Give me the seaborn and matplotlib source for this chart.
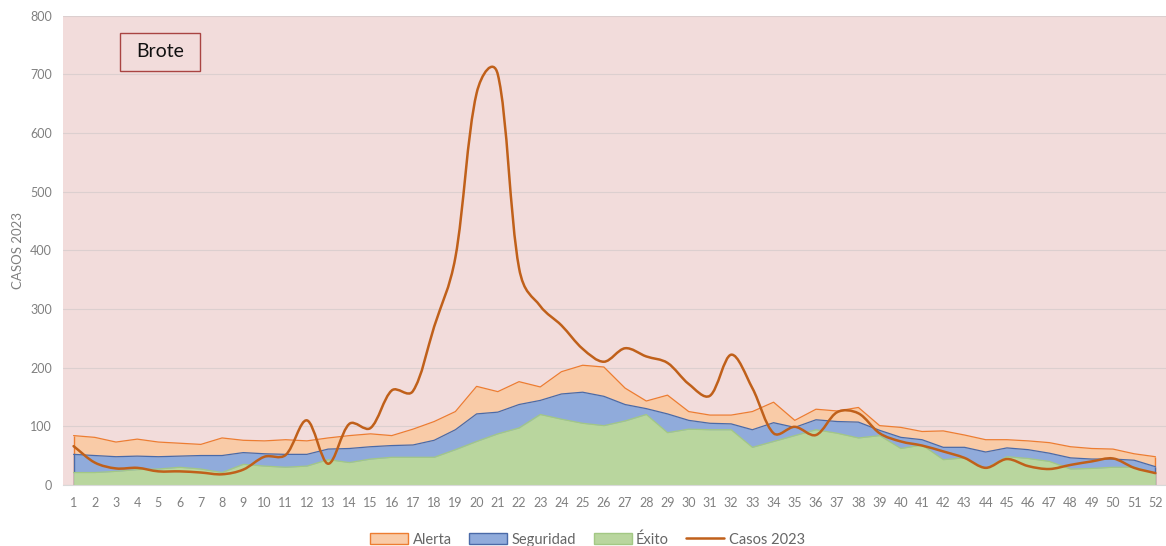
import numpy as np
import pandas as pd
import seaborn as sns
from matplotlib import pyplot as plt
from matplotlib.path import Path
from matplotlib.patches import PathPatch, Patch, Rectangle
from matplotlib.lines import Line2D

weeks = list(range(1, 53))

casos_2023 = [66, 38, 28, 29, 23, 23, 21, 18, 26, 48, 51, 110, 36, 104, 97, 161, 160,
              270, 388, 668, 700, 370, 305, 272, 232, 210, 233, 219, 208, 172, 152, 222,
              165, 88, 99, 85, 124, 122, 88, 74, 67, 57, 46, 29, 44, 32, 27, 34, 40, 45,
              29, 20]
alerta = [84, 81, 73, 78, 73, 71, 69, 80, 76, 75, 77, 75, 80, 84, 87, 84, 95, 108, 125,
          168, 159, 176, 167, 193, 204, 201, 165, 143, 153, 125, 119, 119, 125, 141, 110,
          129, 126, 132, 101, 98, 91, 92, 85, 77, 77, 75, 72, 65, 62, 61, 53, 48]
seguridad = [52, 50, 48, 49, 48, 49, 50, 50, 55, 53, 52, 52, 61, 62, 65, 67, 68, 76, 94,
             121, 124, 137, 144, 155, 158, 151, 137, 130, 121, 110, 105, 104, 94, 106, 98,
             111, 108, 107, 93, 81, 77, 64, 64, 56, 63, 60, 54, 46, 44, 44, 42, 31]
exito = [21, 21, 23, 26, 27, 30, 27, 21, 35, 32, 30, 32, 43, 38, 44, 47, 47, 47, 60, 74,
         87, 97, 120, 112, 105, 101, 109, 120, 89, 95, 94, 94, 64, 74, 84, 94, 88, 80, 84,
         62, 68, 43, 46, 28, 48, 45, 40, 27, 28, 30, 30, 20]

BROTE_TOP = 800

BG = "#F2DCDB"
GRAY = "#808080"
series_style = {
    "Alerta": ("#F9CBA7", "#ED7D31"),
    "Seguridad": ("#90ABDB", "#4A6AA8"),
    "Éxito": ("#B9D69E", "#A3C884"),
}
CASOS_COLOR = "#C0601A"

sns.set_style("white")
plt.rcParams["font.family"] = ["Lato", "DejaVu Sans"]

df = pd.DataFrame({
    "week": weeks * 3,
    "value": alerta + seguridad + exito,
    "serie": ["Alerta"] * 52 + ["Seguridad"] * 52 + ["Éxito"] * 52,
})

fig = plt.figure(figsize=(11.66, 5.46), dpi=100)
ax = fig.add_axes([0.054, 0.112, 0.946, 0.859])
ax.set_facecolor(BG)

for name, vals in [("Alerta", alerta), ("Seguridad", seguridad), ("Éxito", exito)]:
    fill, edge = series_style[name]
    ax.fill_between(weeks, 0, vals, color=fill, lw=0, zorder=2)
    if name != "Éxito":
        ax.vlines([weeks[0], weeks[-1]], 0, [vals[0], vals[-1]], color=edge, lw=1.0, zorder=2)
    sns.lineplot(data=df[df.serie == name], x="week", y="value", color=edge,
                 lw=0.9, ax=ax, zorder=3, legend=False)

# smoothed line: bezier segments, handles partly split by neighbouring segment lengths
# (worked out in screen-ish units so the steep drop doesn't overshoot)
sx, sy = 21.24, 0.586
pts = np.column_stack([np.array(weeks) * sx, np.array(casos_2023) * sy]).astype(float)
n = len(pts)
c_in = pts.copy()
c_out = pts.copy()
for i in range(1, n - 1):
    tang = pts[i + 1] - pts[i - 1]
    d0 = np.hypot(*(pts[i] - pts[i - 1]))
    d1 = np.hypot(*(pts[i + 1] - pts[i]))
    w0 = 0.25 + 0.5 * d0 / (d0 + d1)
    w1 = 0.25 + 0.5 * d1 / (d0 + d1)
    c_in[i] = pts[i] - tang * w0 / 3
    c_out[i] = pts[i] + tang * w1 / 3
c_out[0] = pts[0] + (pts[1] - pts[0]) / 3
c_in[-1] = pts[-1] - (pts[-1] - pts[-2]) / 3
verts = [pts[0]]
codes = [Path.MOVETO]
for i in range(n - 1):
    verts += [c_out[i], c_in[i + 1], pts[i + 1]]
    codes += [Path.CURVE4] * 3
verts = np.array(verts) / [sx, sy]
ax.add_patch(PathPatch(Path(verts, codes), fill=False, edgecolor=CASOS_COLOR, lw=1.8,
                       zorder=4, capstyle="round", joinstyle="round"))

ax.set_xlim(0.5, 52.5)
ax.set_ylim(0, BROTE_TOP)
ax.set_xticks(weeks)
ax.set_yticks(range(0, 801, 100))
ax.yaxis.grid(True, color="#DCCFCF", lw=0.8, zorder=1)
ax.set_axisbelow(True)
for s in ["top", "right", "left"]:
    ax.spines[s].set_visible(False)
ax.spines["bottom"].set_color("#D9D9D9")
ax.tick_params(axis="both", length=0, labelsize=9, labelcolor=GRAY)
ax.tick_params(axis="x", pad=9)
ax.tick_params(axis="y", pad=8)
ax.set_xlabel("")
ax.set_ylabel("CASOS 2023", fontsize=9.5, color=GRAY, labelpad=4)

ax.add_patch(Rectangle((0.0517, 0.883), 0.0725, 0.081, transform=ax.transAxes,
                       facecolor=BG, edgecolor="#A94442", lw=1.0, zorder=5))
ax.text(0.088, 0.923, "Brote", transform=ax.transAxes, ha="center", va="center",
        fontsize=14, color="#111111", zorder=6)

handles = [Patch(facecolor=series_style[k][0], edgecolor=series_style[k][1], lw=1.0)
           for k in ["Alerta", "Seguridad", "Éxito"]]
handles.append(Line2D([], [], color=CASOS_COLOR, lw=1.8))
fig.legend(handles, ["Alerta", "Seguridad", "Éxito", "Casos 2023"], loc="lower center",
           bbox_to_anchor=(0.504, -0.025), ncol=4, frameon=False, fontsize=10.5,
           handlelength=2.6, handleheight=0.8, columnspacing=1.2, handletextpad=0.3,
           labelcolor="#666666")

fig.savefig("out.png", dpi=100, facecolor="white")
